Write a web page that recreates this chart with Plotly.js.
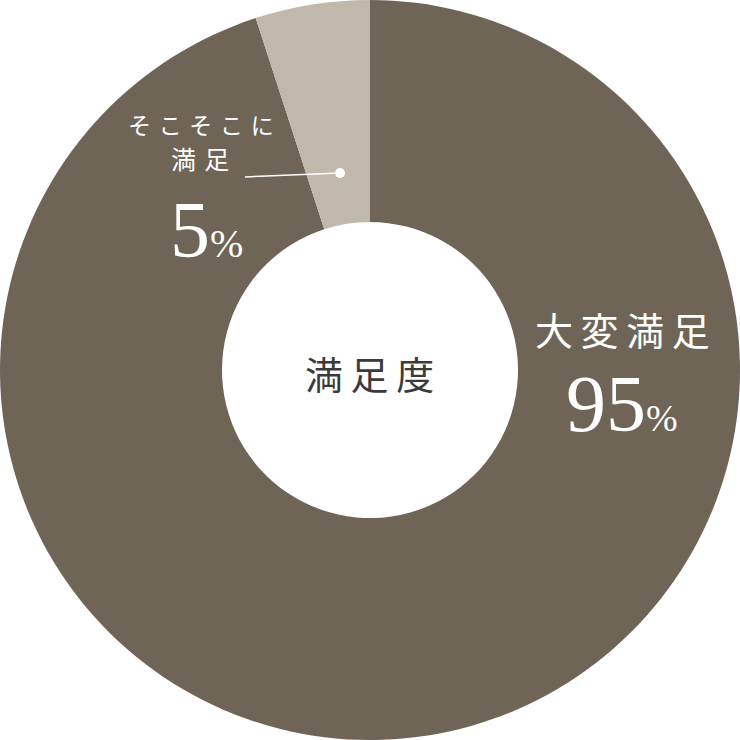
<!DOCTYPE html>
<html>
<head>
<meta charset="utf-8">
<script src="https://cdn.plot.ly/plotly-3.0.1.min.js"></script>
<style>
  html, body { margin: 0; padding: 0; background: #fff; }
  #chart { width: 740px; height: 740px; }
</style>
</head>
<body>
<div id="chart"></div>
<script>
// satisfaction breakdown (big slice first, drawn clockwise from 12 o'clock)
var labels = ['大変満足', 'そこそこに満足'];
var values = [95, 5];
var colors = ['#6e6556', '#c0b9ab'];
var centerTitle = '満足度';

var serif = '"Liberation Serif", "Noto Sans CJK JP", serif';
var cjk = '"Noto Sans CJK JP", sans-serif';

// spread the characters of a label a little
function spaced(s, gap) {
  return s.split('').join(gap);
}

var data = [{
  type: 'pie',
  labels: labels,
  values: values,
  hole: 0.4,
  sort: false,
  direction: 'clockwise',
  rotation: 0,
  marker: { colors: colors, line: { width: 0 } },
  textinfo: 'none',
  hoverinfo: 'none',
  showlegend: false
}];

function note(x, y, text, font) {
  return {
    x: x / 740, y: 1 - y / 740, xref: 'paper', yref: 'paper',
    xanchor: 'center', yanchor: 'middle', showarrow: false,
    text: text, font: font
  };
}

var layout = {
  width: 740,
  height: 740,
  margin: { t: 0, b: 0, l: 0, r: 0 },
  paper_bgcolor: '#fff',
  annotations: [
    note(369, 372, spaced(centerTitle, '\u2009'), { family: cjk, size: 38, color: '#3b3b3b' }),
    note(622, 328, spaced(labels[0], '\u2009'), { family: cjk, size: 38, color: '#fff' }),
    note(622, 404, values[0] + '<span style="font-size:38px">%</span>', { family: serif, size: 80, color: '#fff' }),
    note(201, 124, spaced(labels[1].slice(0, 5), '\u2004'), { family: cjk, size: 23, color: '#fff' }),
    note(200, 158, spaced(labels[1].slice(5), '\u2004'), { family: cjk, size: 25, color: '#fff' }),
    note(207, 230, values[1] + '<span style="font-size:40px">%</span>', { family: serif, size: 80, color: '#fff' })
  ],
  shapes: [
    { // leader line
      type: 'line', xref: 'paper', yref: 'paper',
      x0: 245 / 740, y0: 1 - 177 / 740, x1: 340 / 740, y1: 1 - 173 / 740,
      line: { color: '#fff', width: 1.5 }
    },
    {
      type: 'circle', xref: 'paper', yref: 'paper',
      x0: 335 / 740, y0: 1 - 168 / 740, x1: 345 / 740, y1: 1 - 178 / 740,
      fillcolor: '#fff', line: { width: 0 }
    }
  ]
};

Plotly.newPlot('chart', data, layout, { staticPlot: true, displayModeBar: false });
</script>
</body>
</html>
